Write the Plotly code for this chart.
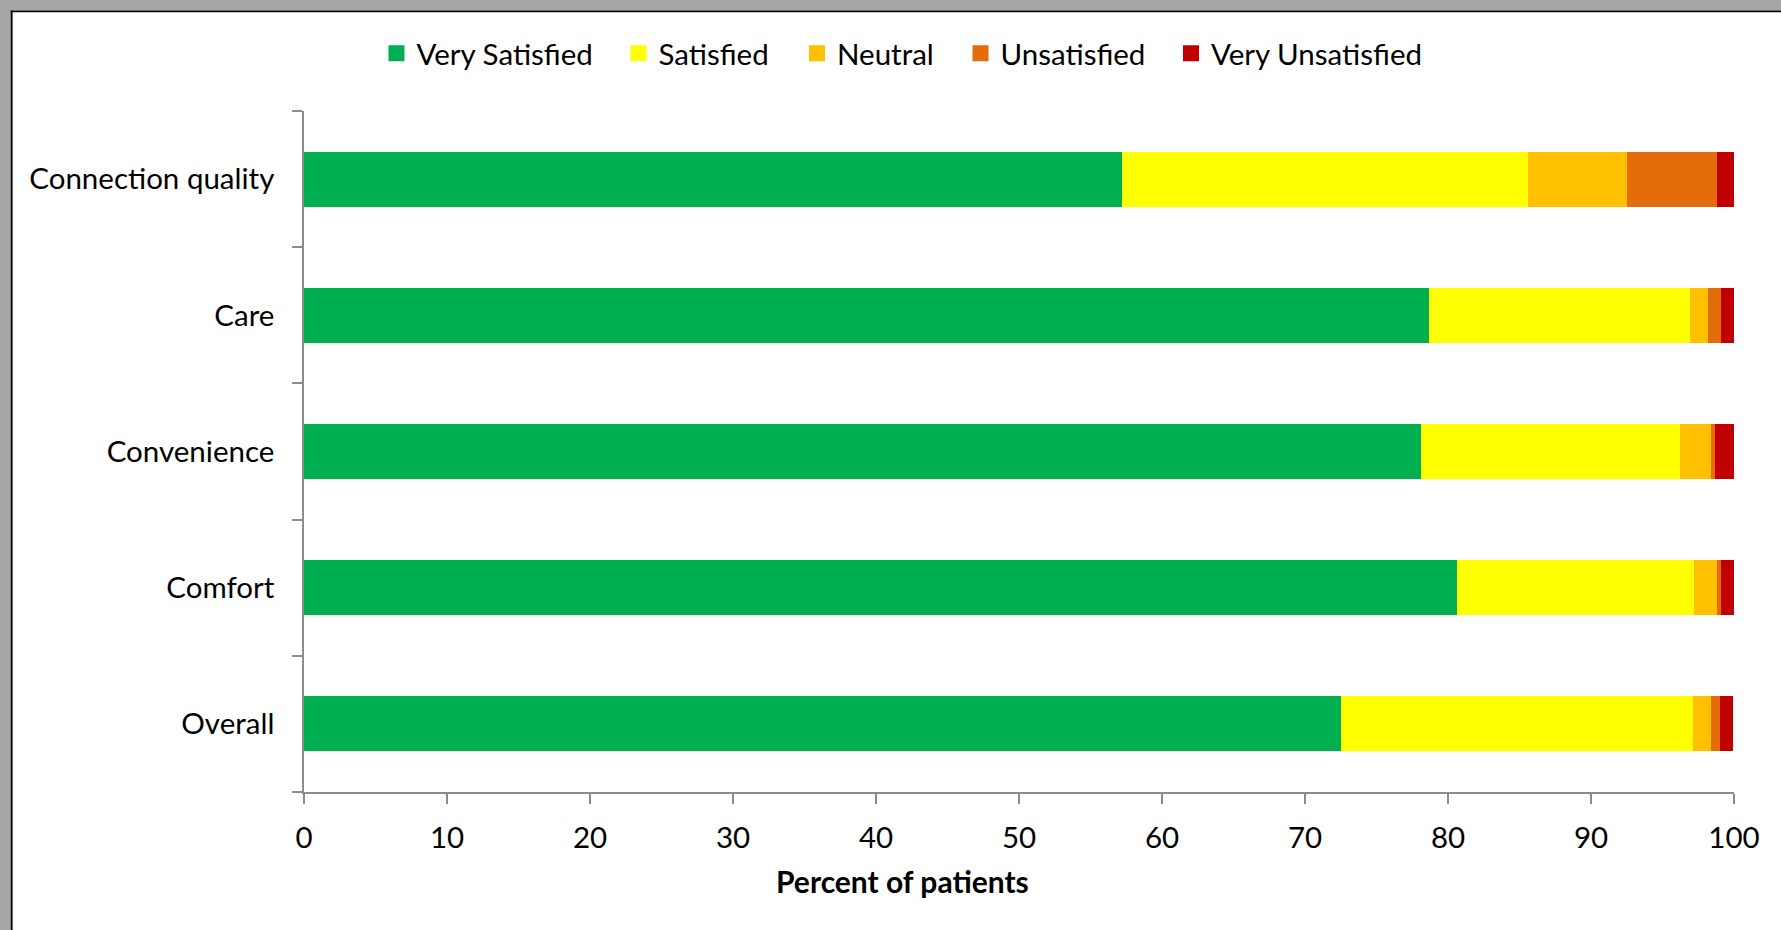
import plotly.graph_objects as go

# Survey results, percent of patients per rating
categories = ["Connection quality", "Care", "Convenience", "Comfort", "Overall"]
very_satisfied = [57.2, 78.7, 78.1, 80.6, 72.5]
satisfied = [28.4, 18.2, 18.1, 16.6, 24.6]
neutral = [6.9, 1.3, 2.2, 1.6, 1.3]
unsatisfied = [6.3, 0.9, 0.3, 0.3, 0.6]
very_unsatisfied = [1.2, 0.9, 1.3, 0.9, 0.9]

series_names = ["Very Satisfied", "Satisfied", "Neutral", "Unsatisfied", "Very Unsatisfied"]
series_values = [very_satisfied, satisfied, neutral, unsatisfied, very_unsatisfied]
series_colors = ["#00B050", "#FFFF00", "#FFC000", "#E46C0A", "#C00000"]

x_ticks = list(range(0, 101, 10))
x_title = "Percent of patients"

# Figure geometry (pixels)
FIG_W, FIG_H = 1781, 930
ML, MR, MT, MB = 304, 47, 111, 138
PW = FIG_W - ML - MR
PH = FIG_H - MT - MB

FONT = "Lato"
FS = 29.5
AXIS_GRAY = "#8c8c8c"


def px_x(px):
    return (px - ML) / PW


def px_y(py):
    return (FIG_H - MB - py) / PH


fig = go.Figure()

for name, vals, col in zip(series_names, series_values, series_colors):
    fig.add_trace(go.Bar(
        y=categories, x=vals, orientation="h", name=name,
        marker=dict(color=col, line=dict(width=0)),
        showlegend=False,
    ))

# Legend entries, one legend box per series so each sits at its own spot
legend_centers = [397.5, 639.5, 818, 981.5, 1192]
layout_legends = {}
for i, (name, col, cx) in enumerate(zip(series_names, series_colors, legend_centers)):
    key = "legend" if i == 0 else f"legend{i + 1}"
    fig.add_trace(go.Scatter(
        x=[None], y=[None], mode="markers", name=name,
        marker=dict(symbol="square", size=16, color=col, line=dict(width=0)),
        legend=key, showlegend=True,
    ))
    layout_legends[key] = dict(
        x=(cx - 21) / FIG_W, xref="container", xanchor="left",
        y=1 - 53.5 / FIG_H, yref="container", yanchor="middle",
        bgcolor="rgba(0,0,0,0)", borderwidth=0,
        font=dict(family=FONT, size=FS, color="#000000"),
        itemclick=False, itemdoubleclick=False,
    )

# Window-style frame: gray band with a dark edge on the left and top
shapes = [
    dict(type="rect", xref="paper", yref="paper",
         x0=px_x(0), x1=px_x(11), y0=px_y(FIG_H), y1=px_y(0),
         fillcolor="#a6a6a6", line=dict(width=0), layer="below"),
    dict(type="rect", xref="paper", yref="paper",
         x0=px_x(0), x1=px_x(FIG_W), y0=px_y(10.5), y1=px_y(0),
         fillcolor="#a6a6a6", line=dict(width=0), layer="below"),
    dict(type="rect", xref="paper", yref="paper",
         x0=px_x(10.8), x1=px_x(12.6), y0=px_y(FIG_H), y1=px_y(10.5),
         fillcolor="#000000", line=dict(width=0), layer="below"),
    dict(type="rect", xref="paper", yref="paper",
         x0=px_x(10.8), x1=px_x(FIG_W), y0=px_y(12.2), y1=px_y(10.4),
         fillcolor="#000000", line=dict(width=0), layer="below"),
]

fig.update_layout(
    width=FIG_W, height=FIG_H,
    margin=dict(l=ML, r=MR, t=MT, b=MB, autoexpand=False),
    paper_bgcolor="#ffffff", plot_bgcolor="#ffffff",
    barmode="stack", bargap=0.597,
    font=dict(family=FONT, size=FS, color="#000000"),
    shapes=shapes,
    annotations=[dict(
        text=f"<b>{x_title}</b>", x=px_x(902), y=px_y(881),
        xref="paper", yref="paper", xanchor="center", yanchor="middle",
        showarrow=False, font=dict(family=FONT, size=30, color="#000000"),
    )],
    xaxis=dict(
        range=[0, 100], tickvals=x_ticks, ticks="outside", ticklen=10,
        tickwidth=1.5, tickcolor=AXIS_GRAY, showline=True, linecolor=AXIS_GRAY,
        linewidth=1.5, showgrid=False, zeroline=False, ticklabelstandoff=9,
        tickfont=dict(family=FONT, size=FS, color="#000000"), fixedrange=True,
    ),
    yaxis=dict(
        categoryorder="array", categoryarray=categories[::-1],
        ticks="outside", tickson="boundaries", ticklen=10, tickwidth=1.5,
        tickcolor=AXIS_GRAY, showline=True, linecolor=AXIS_GRAY, linewidth=1.5,
        showgrid=False, zeroline=False, ticklabelstandoff=22,
        tickfont=dict(family=FONT, size=FS, color="#000000"), fixedrange=True,
    ),
    **layout_legends,
)

fig.write_html("out.html", config={"displayModeBar": False})
